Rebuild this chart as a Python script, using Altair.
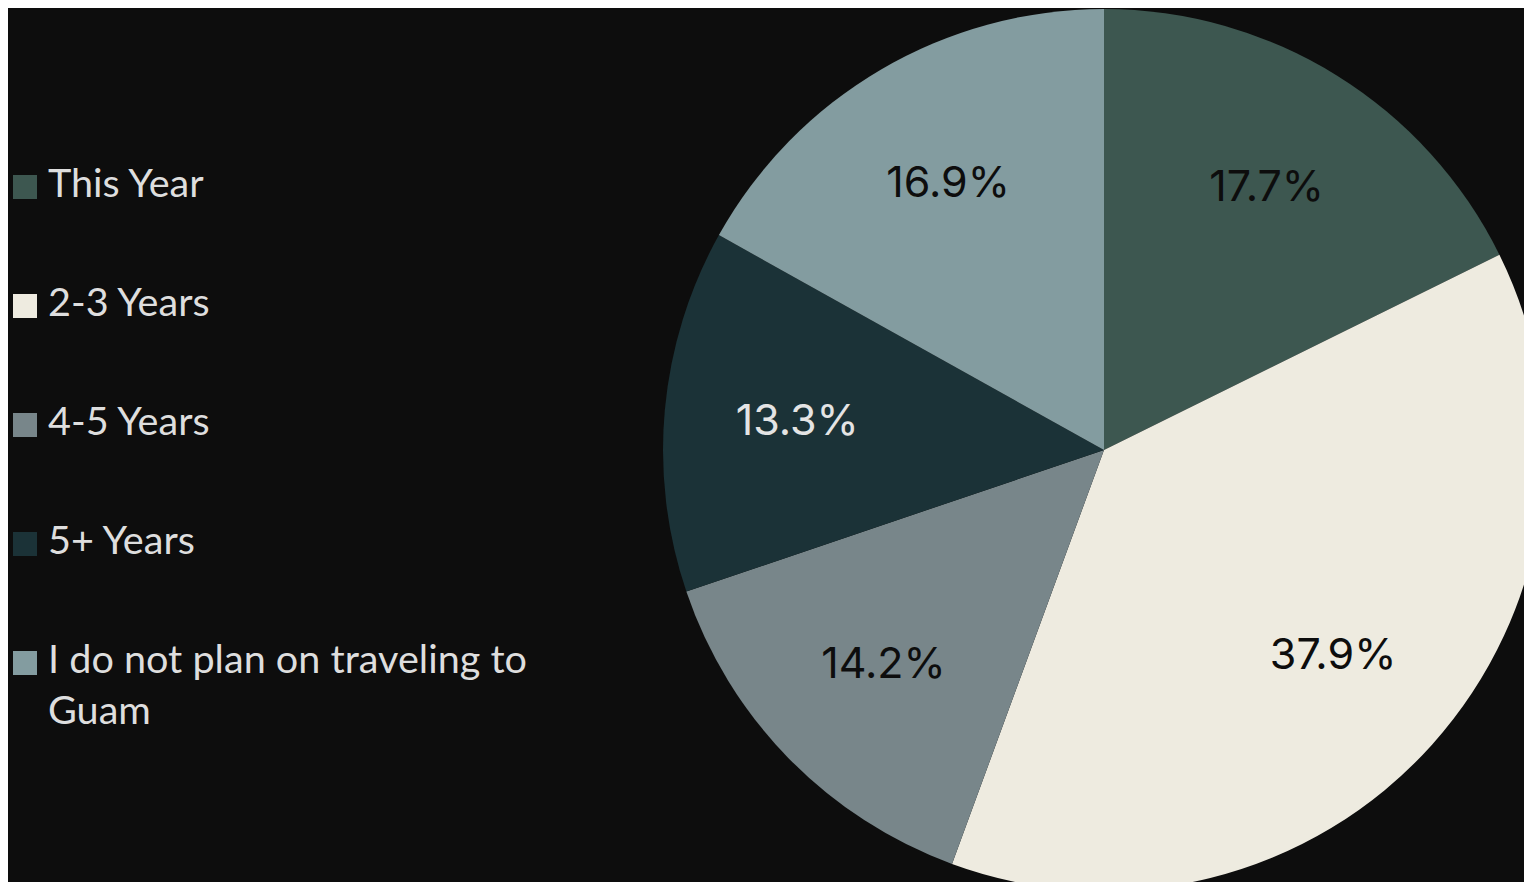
import altair as alt
import pandas as pd

categories = ["This Year", "2-3 Years", "4-5 Years", "5+ Years",
              "I do not plan on traveling to Guam"]
legend_text = ["This Year", "2-3 Years", "4-5 Years", "5+ Years",
               "I do not plan on traveling to\nGuam"]
shares = [17.7, 37.9, 14.2, 13.3, 16.9]
share_labels = ["17.7%", "37.9%", "14.2%", "13.3%", "16.9%"]
colors = ["#3D5750", "#EEEBE0", "#78868A", "#1B3237", "#839CA0"]

df = pd.DataFrame({
    "category": categories,
    "legend": legend_text,
    "share": shares,
    "label": share_labels,
    "idx": list(range(len(categories))),
})

color_scale = alt.Scale(domain=categories, range=colors)
cx, cy, R = 1096, 442, 441

base = alt.Chart(df)

pie = base.mark_arc(outerRadius=R, strokeWidth=0).encode(
    theta=alt.Theta("share:Q", stack=True),
    order=alt.Order("idx:Q"),
    color=alt.Color("category:N", scale=color_scale, legend=None),
    x=alt.value(cx),
    y=alt.value(cy),
)

pie_text = base.mark_text(
    radius=308, font="Inter", fontSize=43, align="center", baseline="middle"
).encode(
    theta=alt.Theta("share:Q", stack=True),
    order=alt.Order("idx:Q"),
    text="label:N",
    x=alt.value(cx),
    y=alt.value(cy),
    color=alt.condition(alt.datum.category == "5+ Years",
                        alt.value("#E4E4E4"), alt.value("#0D0D0D")),
)

ysc = alt.Scale(type="point", domain=categories, range=[179, 655], padding=0)

leg_sq = base.mark_square(size=576, opacity=1, strokeWidth=0).encode(
    y=alt.Y("category:N", scale=ysc, axis=None),
    x=alt.value(17),
    color=alt.Color("category:N", scale=color_scale, legend=None),
)

leg_txt = base.mark_text(
    align="left", baseline="alphabetic", dy=10, font="Lato", fontSize=39.6,
    lineBreak="\n", lineHeight=51, color="#DEDEDE"
).encode(
    y=alt.Y("category:N", scale=ysc, axis=None),
    x=alt.value(40),
    text="legend:N",
)

chart = alt.layer(pie, pie_text, leg_sq, leg_txt).properties(
    width=1516, height=874,
    autosize=alt.AutoSizeParams(type="none"),
    padding=0,
    background="#0D0D0D",
).configure_view(stroke=None)

chart.save("out.html", embed_options={"renderer": "svg", "actions": False})
